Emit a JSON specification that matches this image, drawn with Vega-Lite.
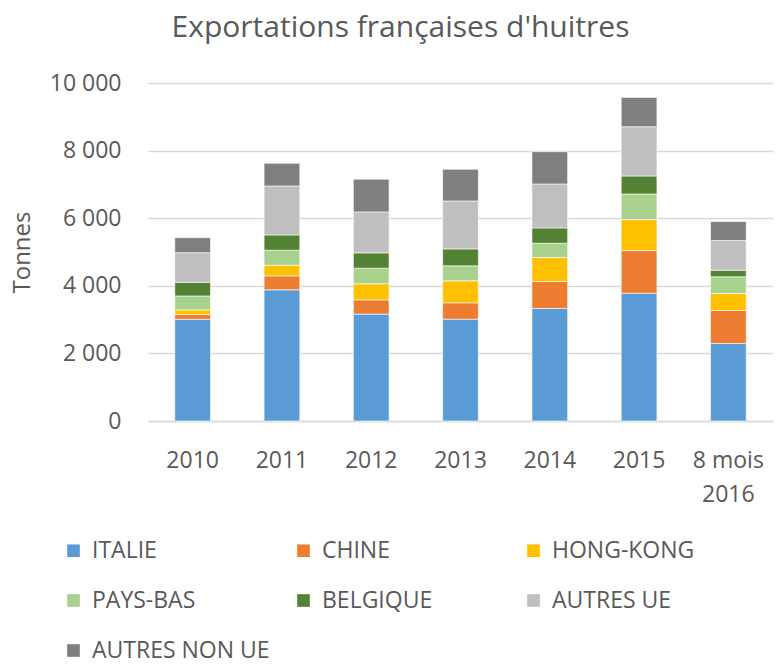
{
  "$schema": "https://vega.github.io/schema/vega-lite/v6.json",
  "width": 625,
  "height": 338,
  "autosize": {"type": "none"},
  "padding": {"left": 148, "top": 83, "right": 3, "bottom": 247},
  "background": "white",
  "title": {"text": "Exportations françaises d'huitres", "fontSize": 30, "font": "Open Sans", "fontWeight": "normal", "color": "#595959", "anchor": "middle", "dx": -60, "offset": 29},
  "config": {"view": {"stroke": null}, "font": "Open Sans"},
  "data": {"values": [
    {"annee": "2010", "pays": "ITALIE", "ordre": 1, "tonnes": 3010},
    {"annee": "2010", "pays": "CHINE", "ordre": 2, "tonnes": 138},
    {"annee": "2010", "pays": "HONG-KONG", "ordre": 3, "tonnes": 138},
    {"annee": "2010", "pays": "PAYS-BAS", "ordre": 4, "tonnes": 414},
    {"annee": "2010", "pays": "BELGIQUE", "ordre": 5, "tonnes": 404},
    {"annee": "2010", "pays": "AUTRES UE", "ordre": 6, "tonnes": 877},
    {"annee": "2010", "pays": "AUTRES NON UE", "ordre": 7, "tonnes": 443},
    {"annee": "2011", "pays": "ITALIE", "ordre": 1, "tonnes": 3881},
    {"annee": "2011", "pays": "CHINE", "ordre": 2, "tonnes": 414},
    {"annee": "2011", "pays": "HONG-KONG", "ordre": 3, "tonnes": 315},
    {"annee": "2011", "pays": "PAYS-BAS", "ordre": 4, "tonnes": 443},
    {"annee": "2011", "pays": "BELGIQUE", "ordre": 5, "tonnes": 453},
    {"annee": "2011", "pays": "AUTRES UE", "ordre": 6, "tonnes": 1448},
    {"annee": "2011", "pays": "AUTRES NON UE", "ordre": 7, "tonnes": 670},
    {"annee": "2012", "pays": "ITALIE", "ordre": 1, "tonnes": 3162},
    {"annee": "2012", "pays": "CHINE", "ordre": 2, "tonnes": 424},
    {"annee": "2012", "pays": "HONG-KONG", "ordre": 3, "tonnes": 473},
    {"annee": "2012", "pays": "PAYS-BAS", "ordre": 4, "tonnes": 463},
    {"annee": "2012", "pays": "BELGIQUE", "ordre": 5, "tonnes": 453},
    {"annee": "2012", "pays": "AUTRES UE", "ordre": 6, "tonnes": 1212},
    {"annee": "2012", "pays": "AUTRES NON UE", "ordre": 7, "tonnes": 965},
    {"annee": "2013", "pays": "ITALIE", "ordre": 1, "tonnes": 3014},
    {"annee": "2013", "pays": "CHINE", "ordre": 2, "tonnes": 483},
    {"annee": "2013", "pays": "HONG-KONG", "ordre": 3, "tonnes": 650},
    {"annee": "2013", "pays": "PAYS-BAS", "ordre": 4, "tonnes": 443},
    {"annee": "2013", "pays": "BELGIQUE", "ordre": 5, "tonnes": 502},
    {"annee": "2013", "pays": "AUTRES UE", "ordre": 6, "tonnes": 1418},
    {"annee": "2013", "pays": "AUTRES NON UE", "ordre": 7, "tonnes": 936},
    {"annee": "2014", "pays": "ITALIE", "ordre": 1, "tonnes": 3329},
    {"annee": "2014", "pays": "CHINE", "ordre": 2, "tonnes": 798},
    {"annee": "2014", "pays": "HONG-KONG", "ordre": 3, "tonnes": 709},
    {"annee": "2014", "pays": "PAYS-BAS", "ordre": 4, "tonnes": 424},
    {"annee": "2014", "pays": "BELGIQUE", "ordre": 5, "tonnes": 453},
    {"annee": "2014", "pays": "AUTRES UE", "ordre": 6, "tonnes": 1300},
    {"annee": "2014", "pays": "AUTRES NON UE", "ordre": 7, "tonnes": 955},
    {"annee": "2015", "pays": "ITALIE", "ordre": 1, "tonnes": 3782},
    {"annee": "2015", "pays": "CHINE", "ordre": 2, "tonnes": 1261},
    {"annee": "2015", "pays": "HONG-KONG", "ordre": 3, "tonnes": 916},
    {"annee": "2015", "pays": "PAYS-BAS", "ordre": 4, "tonnes": 758},
    {"annee": "2015", "pays": "BELGIQUE", "ordre": 5, "tonnes": 532},
    {"annee": "2015", "pays": "AUTRES UE", "ordre": 6, "tonnes": 1458},
    {"annee": "2015", "pays": "AUTRES NON UE", "ordre": 7, "tonnes": 867},
    {"annee": "8 mois 2016", "pays": "ITALIE", "ordre": 1, "tonnes": 2295},
    {"annee": "8 mois 2016", "pays": "CHINE", "ordre": 2, "tonnes": 975},
    {"annee": "8 mois 2016", "pays": "HONG-KONG", "ordre": 3, "tonnes": 502},
    {"annee": "8 mois 2016", "pays": "PAYS-BAS", "ordre": 4, "tonnes": 493},
    {"annee": "8 mois 2016", "pays": "BELGIQUE", "ordre": 5, "tonnes": 197},
    {"annee": "8 mois 2016", "pays": "AUTRES UE", "ordre": 6, "tonnes": 877},
    {"annee": "8 mois 2016", "pays": "AUTRES NON UE", "ordre": 7, "tonnes": 561}
  ]},
  "mark": {"type": "bar", "stroke": "white", "strokeWidth": 0.6},
  "encoding": {
    "x": {
      "field": "annee", "type": "nominal", "sort": null,
      "scale": {"paddingInner": 0.6, "paddingOuter": 0.3},
      "axis": {
        "title": null, "labelAngle": 0, "labelFontSize": 23, "labelColor": "#595959",
        "labelPadding": 28, "ticks": false, "domainColor": "#d9d9d9", "domainWidth": 1.5,
        "labelExpr": "datum.label == '8 mois 2016' ? ['8 mois', '2016'] : datum.label",
        "labelLineHeight": 34
      }
    },
    "y": {
      "field": "tonnes", "type": "quantitative", "aggregate": "sum", "stack": "zero",
      "scale": {"domain": [0, 10000]},
      "axis": {
        "title": "Tonnes", "titleFontSize": 24, "titleFontWeight": "normal", "titleColor": "#595959",
        "titlePadding": 15,
        "values": [0, 2000, 4000, 6000, 8000, 10000],
        "labelExpr": "replace(format(datum.value, ',d'), ',', ' ')",
        "labelFontSize": 23, "labelColor": "#595959", "labelPadding": 27,
        "ticks": false, "domain": false, "gridColor": "#d9d9d9", "gridWidth": 1.5
      }
    },
    "color": {
      "field": "pays", "type": "nominal",
      "scale": {
        "domain": ["ITALIE", "CHINE", "HONG-KONG", "PAYS-BAS", "BELGIQUE", "AUTRES UE", "AUTRES NON UE"],
        "range": ["#5B9BD5", "#ED7D31", "#FFC000", "#A9D18E", "#548235", "#BFBFBF", "#7F7F7F"]
      },
      "legend": {
        "title": null, "orient": "none", "legendX": -86, "legendY": 456,
        "direction": "horizontal", "columns": 3, "gridAlign": "all",
        "symbolType": "square", "symbolSize": 160, "symbolStrokeWidth": 0,
        "labelFontSize": 23, "labelColor": "#595959", "labelOffset": 7,
        "columnPadding": 22, "rowPadding": 26, "labelLimit": 300
      }
    },
    "order": {"field": "ordre", "type": "quantitative"}
  }
}
